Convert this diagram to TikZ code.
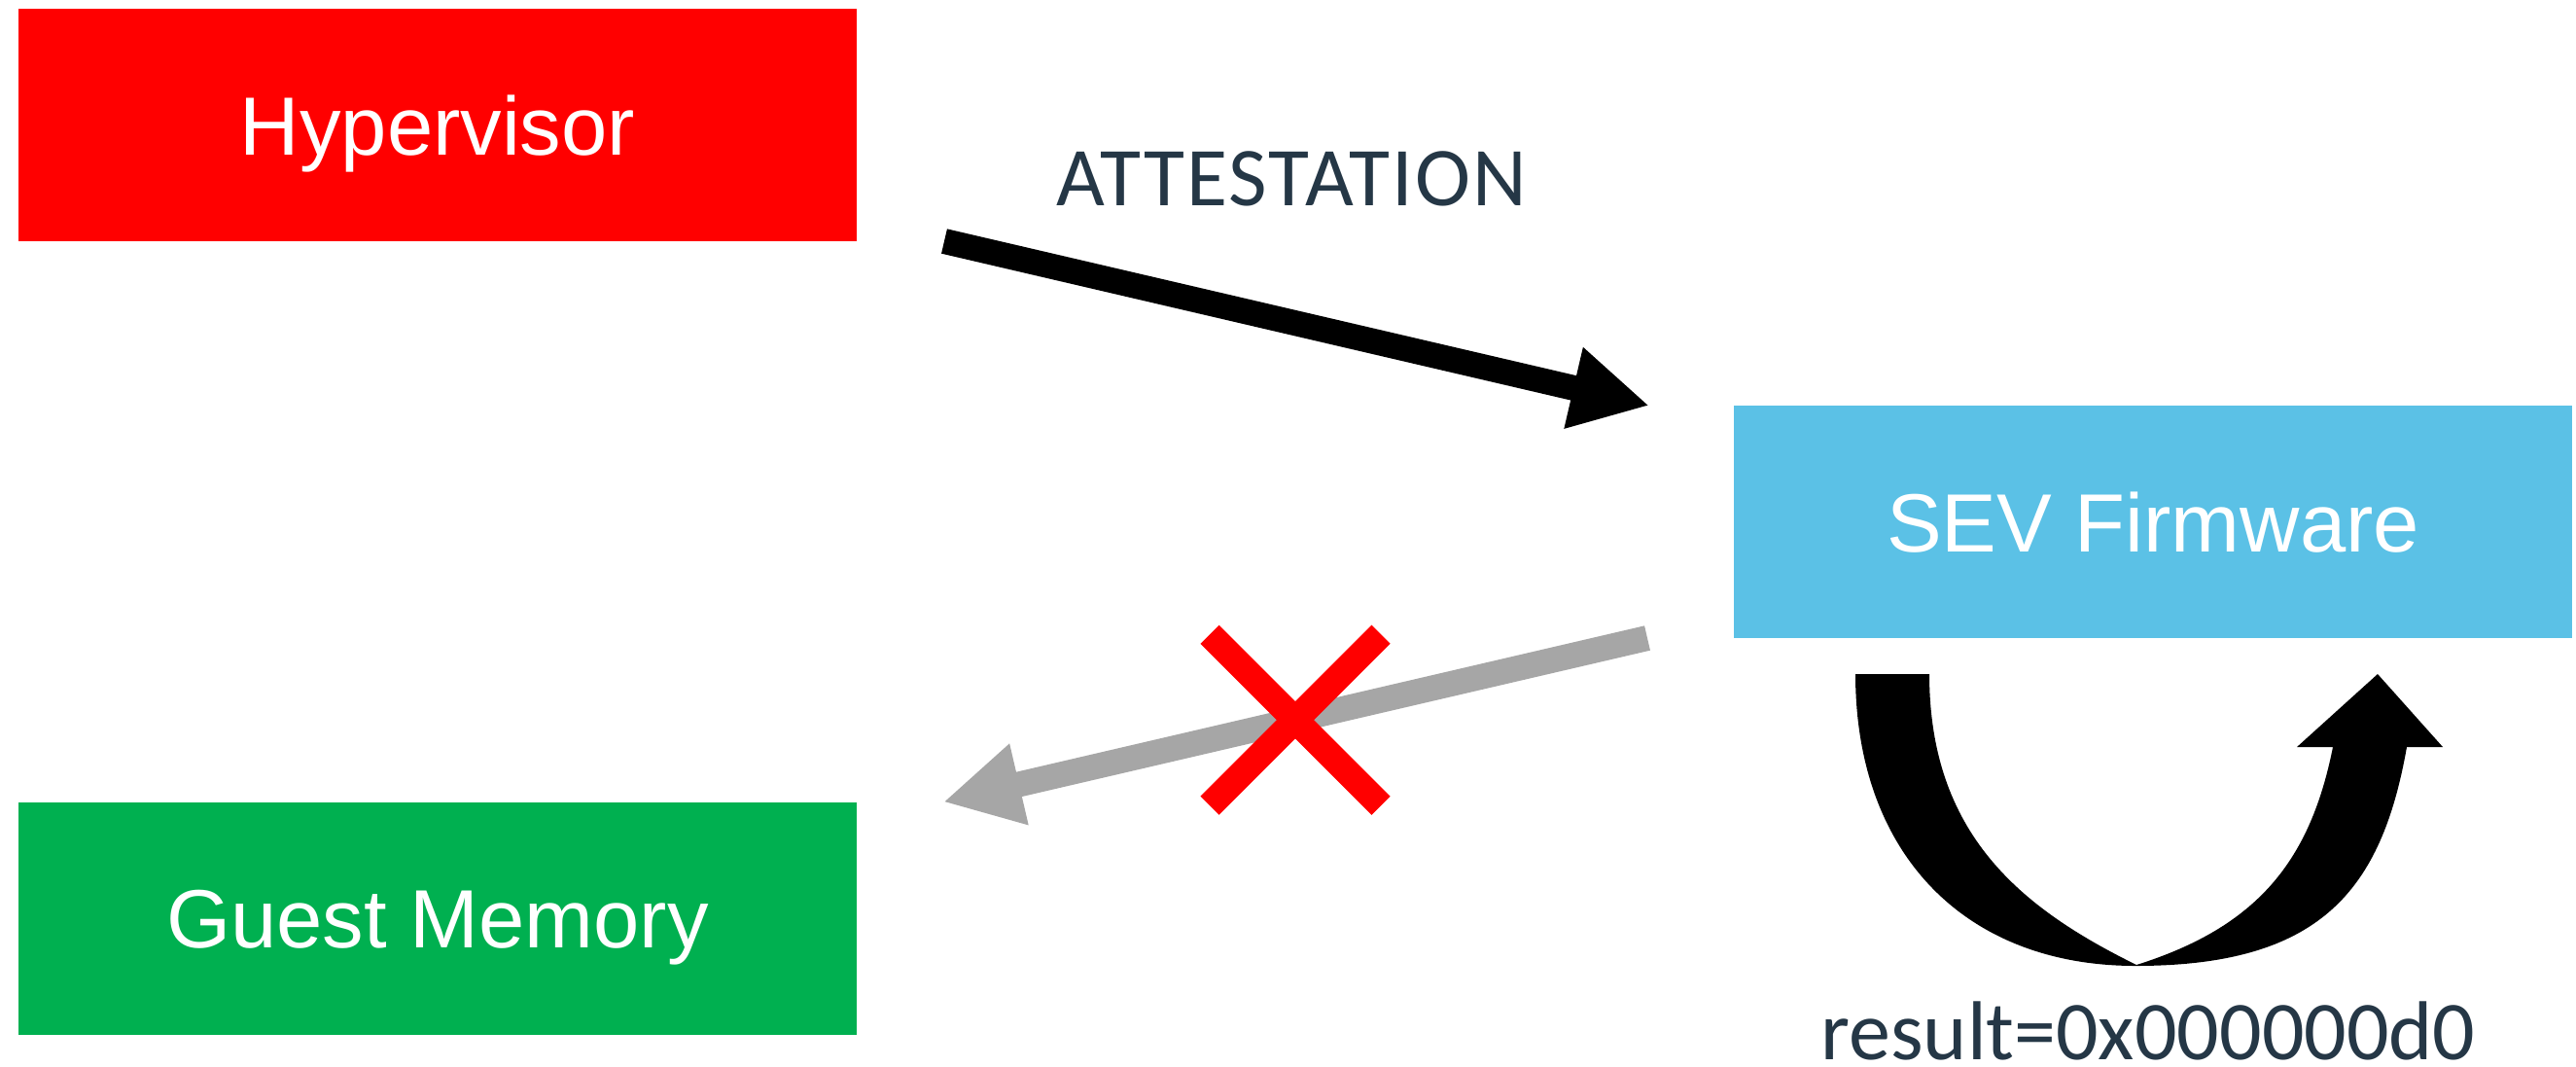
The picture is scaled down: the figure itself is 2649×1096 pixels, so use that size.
\documentclass[tikz,border=0pt]{standalone}
\usepackage{fontspec}
\setmainfont{Carlito}
\newfontfamily\arialfont{Liberation Sans}
\usetikzlibrary{arrows.meta,calc}

\definecolor{hvred}{RGB}{255,0,0}
\definecolor{fwblue}{RGB}{91,193,230}
\definecolor{gmgreen}{RGB}{0,176,80}
\definecolor{arrowgray}{RGB}{166,166,166}
\definecolor{msgnavy}{RGB}{37,55,70}

\begin{document}
\begin{tikzpicture}[x=1pt,y=-1pt,
    block/.style={minimum width=862pt, minimum height=239pt, inner sep=0pt, outer sep=0pt,
        text=white, font=\arialfont\fontsize{85pt}{100pt}\selectfont, text height=61pt, text depth=0pt},
    msg/.style={text=msgnavy, font=\fontsize{86pt}{100pt}\selectfont, inner sep=0pt,
        text depth=0pt, anchor=base},
    fat arrow/.style={line width=26pt, -{Triangle[length=80pt,width=80pt]}}]
    \useasboundingbox (0,0) rectangle (2649,1096);

    \node[block, fill=hvred] (hyp) at (450,128.5) {Hypervisor};
    \node[block, fill=fwblue] (sev) at (2214,536.5) {SEV Firmware};
    \node[block, fill=gmgreen] (gm) at (450,944) {Guest Memory};

    % request goes down to the firmware
    \draw[fat arrow] ($(hyp.south east)+(90,0)$) -- ($(sev.north west)+(-87,0)$);
    \node[msg, font=\fontsize{86pt}{100pt}\selectfont\addfontfeatures{LetterSpace=2.5}] (att) at (1328,211) {ATTESTATION};

    % answer to the guest, crossed out
    \draw[fat arrow, draw=arrowgray] ($(sev.south west)+(-89,0)$)
        -- coordinate[midway] (blocked) ($(gm.north east)+(89,0)$);
    \foreach \s in {1,-1}
        \draw[line width=27pt, hvred] ($(blocked)+(-88*\s,-88)$) -- ($(blocked)+(88*\s,88)$);

    % u-turn back up into the firmware
    \fill (1908,693) .. controls (1908,878) and (2021,993) .. (2196,993)
        .. controls (2386,993) and (2448.8,915.8) .. (2475,768)
        -- (2512,768) -- (2445,693) -- (2362,768) -- (2399,768)
        .. controls (2375.5,885.7) and (2321,953) .. (2197,992)
        .. controls (2078.8,933.9) and (1984,858) .. (1984,693) -- cycle;
    \node[msg] (res) at (2209,1089) {result=0x000000d0};
\end{tikzpicture}
\end{document}
